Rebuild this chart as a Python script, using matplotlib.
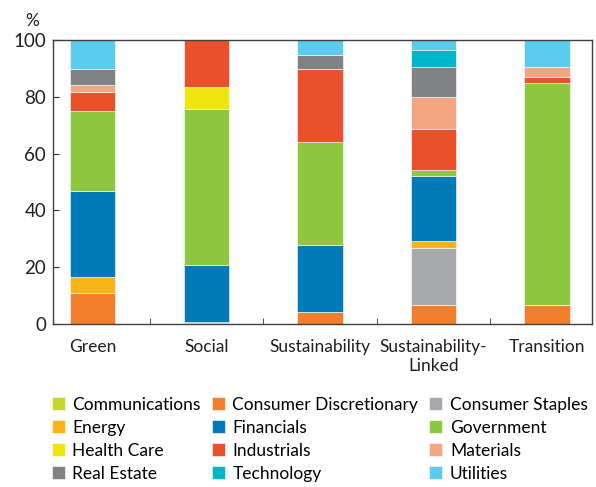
import matplotlib
matplotlib.use("Agg")
import matplotlib.pyplot as plt
import numpy as np

plt.rcParams['font.family'] = ['Lato', 'DejaVu Sans']

categories = ["Green", "Social", "Sustainability", "Sustainability-\nLinked", "Transition"]
sectors = ["Communications", "Consumer Discretionary", "Consumer Staples",
           "Energy", "Financials", "Government",
           "Health Care", "Industrials", "Materials",
           "Real Estate", "Technology", "Utilities"]
colors = ["#c9d52f", "#f47f2a", "#a7a9ac",
          "#fbb31a", "#007bb8", "#8dc63f",
          "#f0e60f", "#e8512b", "#f4a582",
          "#808285", "#00b5c8", "#5bcbee"]

# share (%) of each sector, per bond type
communications = [0.0, 0.3, 0.0, 0.0, 0.0]
consumer_disc = [10.9, 0.0, 4.2, 6.6, 6.7]
consumer_staples = [0.0, 0.3, 0.0, 20.2, 0.0]
energy = [5.5, 0.0, 0.0, 2.4, 0.0]
financials = [30.5, 20.3, 23.4, 22.9, 0.0]
government = [28.0, 54.6, 36.5, 2.0, 78.1]
health_care = [0.0, 7.8, 0.0, 0.0, 0.0]
industrials = [6.9, 16.7, 25.8, 14.7, 2.3]
materials = [2.3, 0.0, 0.0, 11.1, 3.3]
real_estate = [5.5, 0.0, 4.7, 10.6, 0.0]
technology = [0.0, 0.0, 0.0, 6.1, 0.0]
utilities = [10.4, 0.0, 5.4, 3.4, 9.6]

series = [communications, consumer_disc, consumer_staples, energy, financials,
          government, health_care, industrials, materials, real_estate,
          technology, utilities]

fig = plt.figure(figsize=(5.96, 4.87), dpi=100)
ax = fig.add_axes([0.089, 0.335, 0.904, 0.583])

x = np.arange(len(categories))
bottom = np.zeros(len(categories))
handles = []
for name, vals, col in zip(sectors, series, colors):
    vals = np.array(vals)
    b = ax.bar(x, vals, bottom=bottom, width=0.4, color=col,
               edgecolor="white", linewidth=0.4, label=name)
    handles.append(b)
    bottom += vals

ax.set_xlim(-0.35, 4.395)
ax.set_ylim(0, 100)
ax.set_yticks(range(0, 101, 20))
ax.tick_params(axis="y", direction="in", length=4, labelsize=13.5, pad=5,
               color="#333333", labelcolor="#231f20")
ax.set_xticks(x)
ax.set_xticklabels(categories, fontsize=12.5, color="#231f20", linespacing=1.25)
ax.tick_params(axis="x", length=0, pad=11)
ax.set_xticks(x[:-1] + 0.5, minor=True)
ax.tick_params(axis="x", which="minor", direction="in", length=4, color="#333333")
for s in ax.spines.values():
    s.set_color("#404040")
    s.set_linewidth(1.0)

fig.text(0.042, 0.957, "%", fontsize=12.5, ha="left", va="center", color="#231f20")

# legend filled column by column
order = [0, 3, 6, 9, 1, 4, 7, 10, 2, 5, 8, 11]
fig.legend([handles[i] for i in order], [sectors[i] for i in order],
           ncol=3, loc="upper left", bbox_to_anchor=(0.075, 0.2),
           bbox_transform=fig.transFigure, frameon=False, fontsize=12.5,
           handlelength=0.75, handleheight=0.75, handletextpad=0.45,
           columnspacing=0.62, labelspacing=0.41, borderaxespad=0)

fig.savefig("out.png", dpi=100)
